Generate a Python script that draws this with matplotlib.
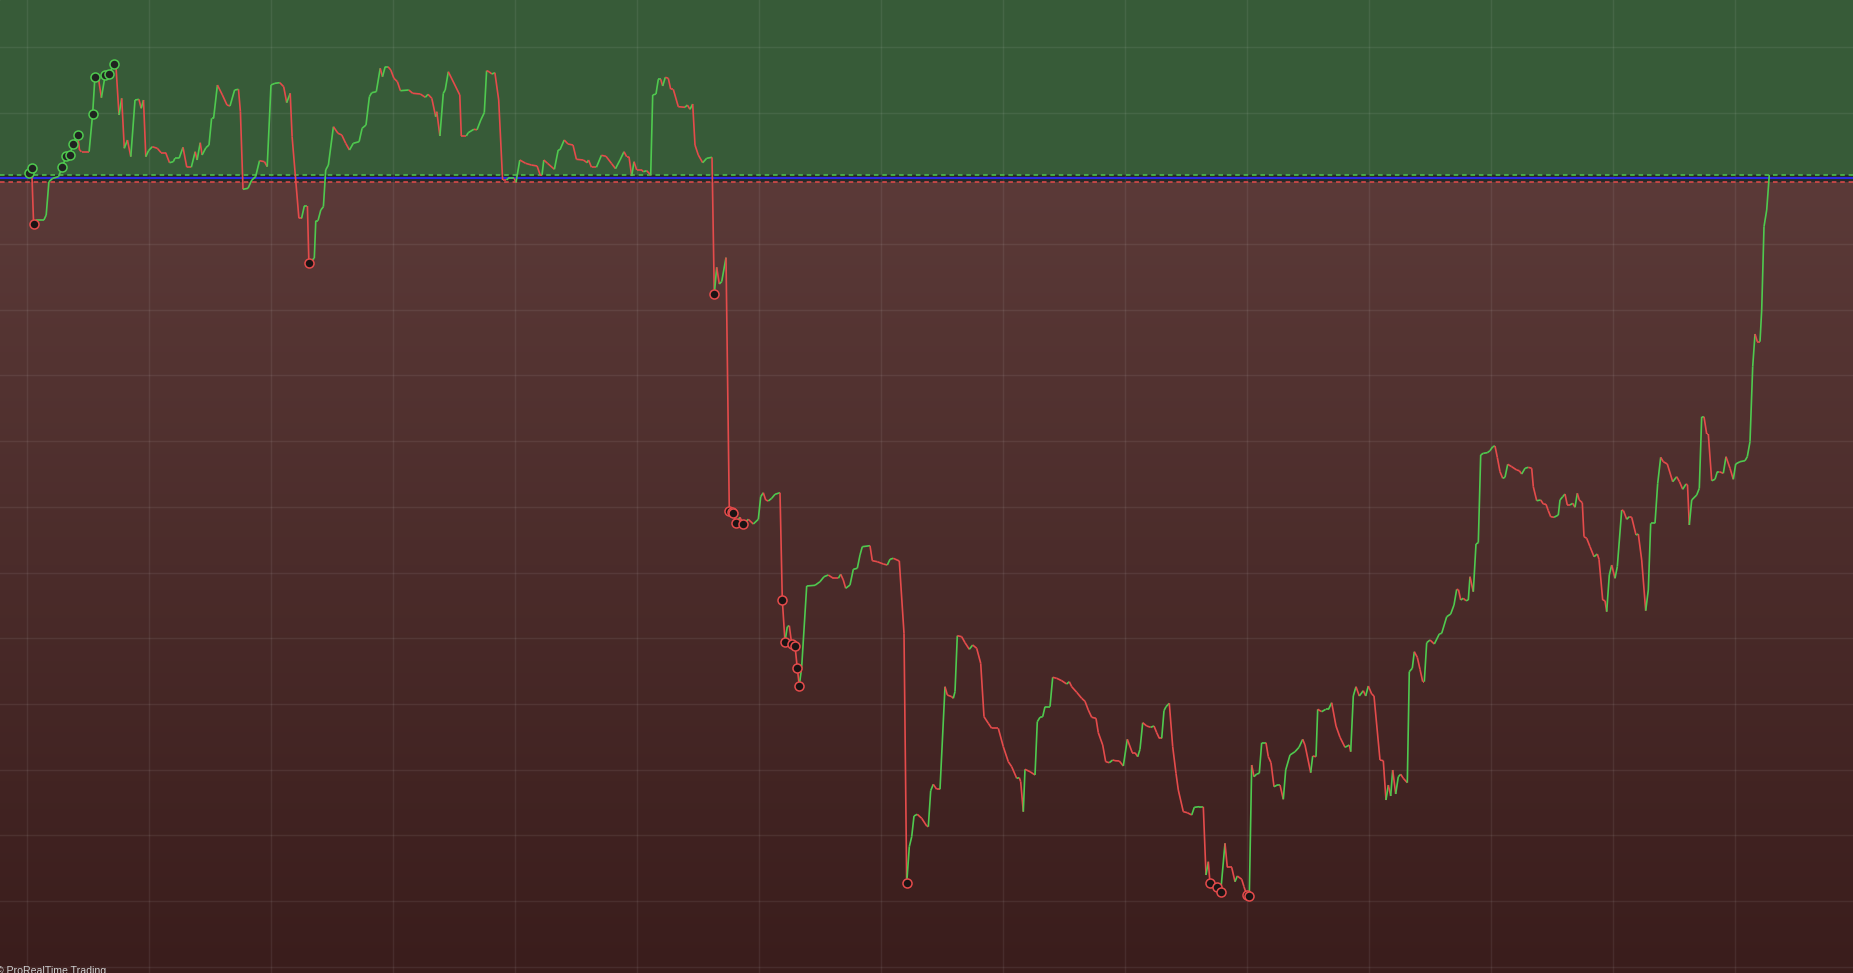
import numpy as np
import matplotlib
matplotlib.use("Agg")
import matplotlib.pyplot as plt
from matplotlib.collections import LineCollection
from matplotlib.colors import LinearSegmentedColormap

# equity curve: time position and value (0 = start level)
xa = [26, 28.6, 31.7, 33.6, 36.3, 43.9, 46.2, 48.9, 52.7, 58.5,
      60.4, 62.3, 66.1, 70, 72.6, 77.6, 79.5, 81.5, 89.1, 92.6,
      94.9, 98.7, 101.4, 105.2, 109.4, 113.6, 115.9, 119, 121.7, 124.3,
      127.4, 130.8, 135, 138.9, 141.2, 143.5, 145.8, 148.5, 152.3, 157.3,
      161.1, 165.7, 169.5, 173.3, 174.9, 179.1, 183, 186.8, 191.3, 195.2,
      197.1, 200.2, 202.1, 205.9, 209, 211.6, 213.6, 217.4, 222.4, 227,
      230, 234.6, 238.5, 240.4, 243, 248, 251.8, 255.6, 259.5, 264.5,
      267.2, 271, 274.9, 279.8, 283.7, 286.7, 290.2, 292.1, 298.9, 301.6,
      304.3, 307.4, 308.9, 312, 314.3, 315.8, 318, 320.8, 323.4, 325.7,
      328.4, 333.4, 338, 341.8, 345.7, 349.5, 353.3, 359.1, 362.1, 366,
      369.4, 371.7, 376.3, 380.2, 382.5, 385.2, 388, 390.8, 393.9, 397.4,
      400.4, 408.8, 412.7, 420.3, 425.3, 428, 431.8, 435.7, 436.8, 439.9,
      443.3, 445.2, 448.3, 459.8, 461.3, 466.3, 468.2, 473.9, 477, 480.8,
      484.3, 486.6, 489, 491.9, 494.9, 498.7, 502.6, 506.4, 508.4, 514.1,
      516, 519.8, 525.6, 531.3, 537.1, 540.2, 542, 543.8, 547.5, 554.4,
      558.2, 560, 564.2, 568, 573, 576.4, 583.3, 587.1, 588.5, 591.5,
      596.4, 601.4, 606, 611.7, 615.5]
va = [3, 5, 10, -45.7, -41.7, -41.7, -36.7, -3.4, 0, 1.6,
      6.6, 11, 22.3, 23, 34, 43, 28.3, 26.6, 26.6, 64,
      101, 98.3, 80.6, 103.3, 104, 114.3, 113.3, 63.3, 80, 30,
      38.3, 21.6, 78.3, 79, 70, 78.3, 21.6, 27.6, 31.6, 30,
      25.6, 25.6, 15.6, 16.6, 20, 20, 31, 11, 11, 26.6,
      18.3, 35.6, 23.3, 30.6, 33.3, 60, 60, 93.3, 83.3, 73.3,
      72.3, 88.3, 89, 66.6, -11, -10, -1.7, 1.6, 17.6, 16.6,
      11.6, 93.3, 95, 95.6, 91.6, 75.6, 85, 41.6, -40, -40,
      -27.7, -27.7, -85, -81.7, -80, -42.3, -42.3, -31.7, -28.4, 8.3,
      13.3, 51.6, 45, 43.3, 35, 28.3, 35, 36.6, 50, 53.3,
      81.6, 85.6, 86.6, 110, 101.6, 111.6, 111.6, 108.3, 100, 96.6,
      87.6, 88.3, 85, 84.3, 81, 84, 80, 61.6, 66.6, 42.3,
      85, 88.3, 106.6, 83.3, 42.3, 42.3, 45.6, 49, 48.5, 58.3,
      65.6, 107.6, 106.6, 104.3, 105.6, 78.3, -1.7, -1.7, 0, 0,
      -4, 18.3, 15, 13.3, 12.3, 3.3, 3.3, 18.3, 15, 9,
      28.3, 28.6, 38.3, 34.3, 33.3, 19, 18.3, 15.6, 18.3, 11,
      11, 23, 22, 14.6, 9.6]

xb = [620, 624, 626.7, 629, 631.7, 634, 636.7, 641.7, 643.3, 646.7,
      650.7, 652.7, 656, 658.3, 660.7, 662.7, 665.3, 668.3, 670.7, 673.3,
      678.3, 685, 687.3, 690, 692.7, 695, 698.3, 702.7, 706.7, 712,
      714.3, 716.7, 719.3, 721.7, 726, 729.3, 731.5, 733.3, 736, 740,
      743.3, 748.3, 753.3, 758.3, 760.7, 763.3, 765.7, 768.3, 771.7, 775,
      780]
vb = [18.3, 26.6, 21.6, 21.6, 2.3, 16.6, 8.3, 8.3, 6.6, 7.6,
      3.3, 83.3, 84.3, 99, 99, 92.3, 101, 100, 89, 89,
      71.6, 71, 73.3, 69, 74.3, 33.3, 23.3, 15.6, 20, 21,
      -116, -89, -105.7, -103.3, -79.3, -332.3, -334, -334.4, -345, -339,
      -346, -341, -345.7, -341, -318.4, -314.4, -321.7, -322.7, -320, -316,
      -314.4]

xc = [782.3, 785, 787.3, 789.3, 791.7, 795, 797.3, 799.3, 801.7, 806.7,
      815, 820, 824, 828.3, 833.3, 838.3, 840.7, 843.3, 845.7, 850,
      853.3, 857.3, 860, 862.3, 870, 872.3, 877.3, 883.3, 887.3, 890,
      893.3, 899.3, 904, 906.7, 909.3, 911.7, 914, 917.3, 921.7, 926.7,
      928.3, 930.7, 933.3, 936.7, 940, 945, 947.3, 951.7, 953.3, 955,
      957.3, 961.7, 965, 969.3, 972.7, 976.7, 980.7, 984, 988.3, 991.7,
      998.3, 1003.3, 1008.3, 1011.7, 1016.7, 1019.3, 1020.7, 1023.3, 1025, 1030,
      1035, 1037.3, 1040, 1042.7, 1045, 1050, 1052.7, 1056.7, 1061.7, 1066.7,
      1069.3, 1071.7, 1076.7, 1081.7, 1085]
vc = [-421.7, -463.4, -448.4, -447.4, -465.7, -467.4, -490, -507.4, -488.4, -407.7,
      -407, -403.4, -398.4, -396.7, -400, -400, -396, -401.7, -410, -406.7,
      -391, -390, -376.7, -368.4, -367.4, -382.4, -383.4, -385.7, -386.7, -381,
      -380, -382.7, -455, -705, -668.4, -658.4, -637.7, -636, -640, -647.7,
      -648.4, -612.4, -606, -611, -611, -508.4, -516.7, -518.4, -520, -513.4,
      -457.4, -458.4, -464.4, -471, -466.7, -470, -485, -538.4, -545, -550,
      -550, -568.4, -583.4, -588.4, -600, -599.4, -603.4, -633.4, -591, -593.4,
      -596.7, -543.4, -539, -538.4, -528.4, -528.4, -499, -500, -502.4, -505.7,
      -503.4, -508.4, -514, -520, -523]

xd = [1088.3, 1091.7, 1096, 1098.3, 1102.7, 1105.7, 1109.3, 1112.7, 1115, 1119.3,
      1123.3, 1127.3, 1132.3, 1135, 1137.7, 1140, 1142.7, 1146.7, 1150.7, 1154,
      1156.7, 1159.3, 1161.7, 1164, 1166, 1169.3, 1172.7, 1176, 1178.3, 1183.3,
      1187.3, 1191.7, 1194.3, 1199.3, 1203.3, 1206, 1208.3, 1210, 1216.7, 1220.7,
      1225, 1227.3, 1231.7, 1235, 1237.3, 1241.7, 1244, 1246.7, 1249.3, 1251.7,
      1254, 1256.7, 1259.3, 1261.7, 1266, 1268.3, 1271, 1274, 1277.3, 1280,
      1283.3, 1285.7, 1290, 1295, 1299, 1302.7, 1305, 1310.7, 1312.7, 1316,
      1317.7, 1321.7, 1325.7, 1328.5, 1331.7, 1336, 1340, 1345, 1349.3, 1350.7,
      1353.3, 1356, 1359.3, 1363.3, 1365.7, 1368.3, 1371.7, 1374, 1380, 1383.3,
      1386, 1388.3, 1390.7, 1392.7, 1395.7, 1398.3, 1400.7, 1403.3, 1407.3]
vd = [-531.7, -539, -540, -554.4, -566.7, -583.4, -584.4, -581.7, -582.4, -582.7,
      -587.7, -561, -574.4, -574.4, -578.4, -571, -544.4, -547.7, -549, -547.7,
      -554.4, -560, -560, -532.4, -528.4, -525, -568.4, -595, -611.7, -633.4,
      -634.4, -636.7, -629, -628.4, -628.4, -696.7, -683.4, -705, -708.4, -713.4,
      -665, -689, -689, -703.4, -697.7, -701, -708.4, -716.7, -717.7, -586.7,
      -598.4, -595.7, -595, -564.4, -564.4, -578.4, -584.4, -608.4, -606.7, -606.7,
      -621, -591.7, -576.7, -573.4, -569, -561, -566.7, -594.4, -577.7, -578.4,
      -531, -533.4, -531, -531, -524.4, -547.7, -559, -569, -566.7, -573.4,
      -517.7, -508.4, -517.7, -512.4, -517.7, -507.7, -515.7, -517.7, -581.7, -582.4,
      -621.7, -606.7, -617.7, -591.7, -615.7, -598.4, -596, -600, -604.4]

xe = [1409.3, 1412.3, 1414.3, 1417.3, 1420, 1422.7, 1424.3, 1426.7, 1430, 1434.3,
      1439.3, 1441.7, 1446.7, 1450.7, 1454, 1456.7, 1458.5, 1460.7, 1463.3, 1466,
      1468.3, 1470, 1473.3, 1476, 1478.3, 1480.7, 1483.3, 1487.3, 1490, 1492.7,
      1495, 1497.3, 1500, 1502.7, 1505, 1507.7, 1511.7, 1516.7, 1519.3, 1521.7,
      1525, 1528.3, 1531.7, 1533.3, 1536.7, 1540.7, 1543.3, 1546, 1548.3, 1550.7,
      1554, 1558.3, 1560, 1562.7, 1565, 1567.3, 1570, 1572.7, 1575, 1577.3,
      1579.3, 1582.3, 1584, 1586.7, 1590, 1594, 1597.3, 1599, 1602.7, 1605,
      1606.7, 1609.3, 1611.7, 1615, 1617.3, 1621.7, 1623.5, 1626.7, 1629.3, 1631.7,
      1636, 1638.3, 1641.7, 1645.7, 1648.3, 1650.7, 1655, 1657.7, 1660.7, 1663.3,
      1667.3, 1672.7, 1676.7, 1679.5, 1682.7, 1686, 1687.5]
ve = [-493.4, -490, -473.4, -479, -491, -503.4, -503.4, -464.4, -461.7, -465.7,
      -455.7, -455, -438.4, -435.7, -426.7, -411, -411.5, -421.7, -420, -422.4,
      -421.7, -398.4, -413.4, -365.7, -364.4, -276.7, -275, -274.4, -272.4, -268.4,
      -267.7, -279, -293.4, -300, -299, -286, -288.4, -291.7, -292.4, -295.7,
      -290, -289, -290, -308.4, -322.4, -321.7, -325.7, -326, -332.4, -338.4,
      -339, -336.7, -321.7, -318.4, -315.7, -326.7, -326.7, -325, -329, -315,
      -321.7, -324.4, -358.4, -360, -368.4, -378.4, -375.7, -381, -421.7, -422.4,
      -433.4, -396.7, -386.7, -400, -388.4, -331.7, -332.4, -341, -338.4, -339,
      -356.7, -355.7, -381.7, -432.4, -411.7, -345, -345, -305, -279, -283.4,
      -285.7, -303.4, -298.4, -303.4, -311, -305.7, -306.5]

xf = [1689.3, 1691.7, 1696.7, 1699.3, 1701.7, 1704, 1706.7, 1708.3, 1711.7, 1715,
      1717.3, 1719.3, 1723.3, 1726, 1730, 1733.3, 1735.7, 1740, 1745, 1747.3,
      1750, 1752.7, 1755, 1757.3, 1760, 1761.7, 1764, 1766.7, 1769.3]
vf = [-346.7, -321.7, -316.7, -310, -238.4, -238.4, -255.7, -255.7, -302.4, -301,
      -293.4, -293.4, -295, -278.4, -290, -301, -285.7, -283.4, -282.4, -278.4,
      -263.4, -188.4, -155.7, -163.4, -163.4, -131.7, -48.4, -31.7, 3.3]

# new highs (green) and new lows (red) markers
hi_x = [28.6, 31.7, 62.3, 66.1, 70, 72.6, 77.6, 92.6, 94.9, 105.2, 109.4, 113.6]
hi_v = [5, 10, 11, 22.3, 23, 34, 43, 64, 101, 103.3, 104, 114.3]
lo_x = [33.6, 308.9, 714.3, 729.3, 731.5, 733.3, 736, 743.3, 782.3, 785,
        791.7, 795, 797.3, 799.3, 906.7, 1210, 1216.7, 1220.7, 1246.7, 1249.3]
lo_v = [-45.7, -85, -116, -332.3, -334, -334.4, -345, -346, -421.7, -463.4,
        -465.7, -467.4, -490, -507.4, -705, -705, -708.4, -713.4, -716.7, -717.7]

GREEN = '#4fc94f'
RED = '#e44b4b'

x = np.array(xa + xb + xc + xd + xe + xf)
v = np.array(va + vb + vc + vd + ve + vf)

fig = plt.figure(figsize=(18.53, 9.73), dpi=100)
ax = fig.add_axes([0, 0, 1, 1])
ymin, ymax = -794.7, 178.3
ax.set_xlim(0, 1853)
ax.set_ylim(ymin, ymax)
ax.axis('off')

# background zones
ax.axhspan(3, ymax, color='#375b38', zorder=0)
ax.axhspan(-4, 3, color='#262a29', zorder=0)
cmap = LinearSegmentedColormap.from_list('dd', ['#3a1d1c', '#5b3a38'])
grad = np.linspace(0, 1, 256).reshape(-1, 1)
ax.imshow(grad, extent=[0, 1853, ymin, -4], origin='lower', cmap=cmap,
          aspect='auto', zorder=0)

# grid
step = 65.7
for k in range(-12, 3):
    if k != 0:
        ax.axhline(k * step, color='white', alpha=0.07, lw=1, zorder=1)
for k in range(16):
    ax.axvline(26.7 + k * 122, color='white', alpha=0.07, lw=1, zorder=1)

# reference lines
ax.axhline(3, color=GREEN, lw=1.1, ls=(0, (3, 2.5)), zorder=2)
ax.axhline(-4, color=RED, lw=1.1, ls=(0, (3, 2.5)), zorder=2)
ax.axhline(0, color='#2b2be0', lw=1.5, zorder=2)

# curve coloured by direction
pts = np.column_stack([x, v])
segs = np.stack([pts[:-1], pts[1:]], axis=1)
dv = np.diff(v)
cols = []
last = GREEN
for d in dv:
    if d > 0:
        last = GREEN
    elif d < 0:
        last = RED
    cols.append(last)
lc = LineCollection(segs, colors=cols, linewidths=1.2, zorder=3)
ax.add_collection(lc)

ax.plot(hi_x, hi_v, 'o', ms=6.5, mfc='#202420', mec=GREEN, mew=1.1, zorder=4)
ax.plot(lo_x, lo_v, 'o', ms=6.5, mfc='#1a1414', mec=RED, mew=1.1, zorder=4)

fig.text(-0.002, 0.0068, '\u00a9 ProRealTime Trading', color='#cfcfcf',
         fontsize=7.6, family=['Liberation Sans', 'DejaVu Sans'],
         ha='left', va='top')

fig.savefig('out.png', dpi=100)
